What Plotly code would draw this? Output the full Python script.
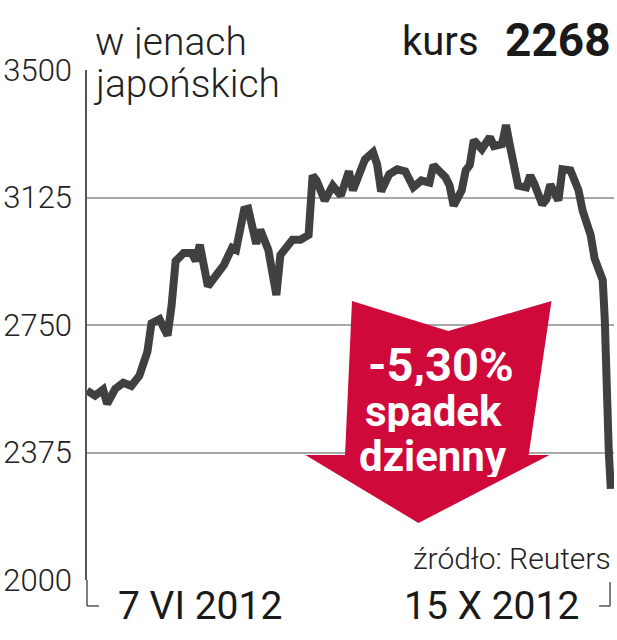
import plotly.graph_objects as go

# ---- data ----
days = [0, 2, 4, 5, 7, 9, 11, 13, 15, 16, 18, 20, 21, 22, 24, 26, 27, 28, 30, 33,
        34, 36, 37, 39, 40, 42, 43, 45, 47, 48, 51, 53, 55, 56, 57, 59, 61, 63, 65, 66,
        69, 71, 72, 73, 75, 77, 79, 81, 83, 85, 86, 89, 90, 91, 93, 94, 95, 96, 98, 100,
        101, 103, 104, 105, 106, 107, 109, 110, 111, 113, 114, 115, 117, 118, 120, 122,
        123, 124, 125, 126, 127, 128, 128.5, 129, 129.5, 130]
kurs = [2557, 2542, 2560, 2518, 2562, 2580, 2571, 2601, 2672, 2755, 2767, 2719, 2808, 2938,
        2962, 2962, 2938, 2986, 2864, 2909, 2927, 2977, 2971, 3089, 3092, 2989, 3030, 2971,
        2838, 2956, 3001, 3001, 3015, 3190, 3175, 3116, 3160, 3131, 3202, 3146, 3237, 3258,
        3223, 3143, 3193, 3208, 3202, 3155, 3175, 3169, 3220, 3184, 3160, 3101, 3146, 3205,
        3220, 3294, 3267, 3303, 3276, 3282, 3338, 3276, 3208, 3160, 3155, 3190, 3166, 3104,
        3119, 3163, 3116, 3208, 3205, 3146, 3087, 3042, 3015, 2945, 2905, 2882, 2770, 2474,
        2380, 2268]
y_ticks = [2000, 2375, 2750, 3125, 3500]
y_tick_labels = ["2000", "2375", "2750", "3125", "3500"]
x_labels = ["7 VI 2012", "15 X 2012"]
unit_lines = ["w jenach", "japońskich"]
kurs_label = "kurs"
kurs_value = "2268"
change_lines = ["-5,30%", "spadek", "dzienny"]
source = "źródło: Reuters"

# ---- layout helpers ----
W, H = 617, 640
L, R, T, B = 83, 3, 70, 60
PW, PH = W - L - R, H - T - B


def px(x):
    return (x - L) / PW


def py(y):
    return (H - B - y) / PH


RED = "#cf0a3b"
LINE = "#404040"
GRID = "#a8a8a8"
FONT = "Roboto"

fig = go.Figure()
fig.add_trace(go.Scatter(x=days, y=kurs, mode="lines",
                         line=dict(color=LINE, width=8), hoverinfo="skip",
                         showlegend=False))

shapes = []
# arrow
pts = [(350, 301), (447, 331), (551, 301), (528, 455), (549, 455), (417, 523),
       (303, 455), (343, 455)]
path = "M " + " L ".join(f"{px(a):.5f},{py(b):.5f}" for a, b in pts) + " Z"
shapes.append(dict(type="path", xref="paper", yref="paper", path=path,
                   fillcolor=RED, line=dict(width=0), layer="above"))
# bottom brackets
for seg in [((83, 580), (83, 606)), ((83, 606), (95, 606)),
            ((610, 582), (610, 606)), ((599, 606), (610, 606))]:
    (x0, y0), (x1, y1) = seg
    shapes.append(dict(type="line", xref="paper", yref="paper",
                       x0=px(x0), y0=py(y0), x1=px(x1), y1=py(y1),
                       line=dict(color="#555555", width=1.5)))

ann = []
ann.append(dict(text=unit_lines[0], x=px(89), y=py(42), xanchor="left", yanchor="middle",
                font=dict(family=FONT, size=39, color="#222222", weight=300)))
ann.append(dict(text=unit_lines[1], x=px(87), y=py(84), xanchor="left", yanchor="middle",
                font=dict(family=FONT, size=39, color="#222222", weight=300),
                bgcolor="white", borderpad=2))
ann.append(dict(text=kurs_label, x=px(480), y=py(42), xanchor="right", yanchor="middle",
                font=dict(family=FONT, size=40, color="#1a1a1a", weight=400)))
ann.append(dict(text="<b>" + kurs_value + "</b>", x=px(613), y=py(40), xanchor="right",
                yanchor="middle", font=dict(family=FONT, size=46, color="#1a1a1a", weight=900)))
ann.append(dict(text="<b>" + change_lines[0] + "</b>", x=px(440), y=py(364),
                xanchor="center", yanchor="middle", height=44,
                font=dict(family=FONT, size=47, color="white")))
ann.append(dict(text="<b>" + change_lines[1] + "</b>", x=px(432), y=py(411),
                xanchor="center", yanchor="middle", height=42,
                font=dict(family=FONT, size=42, color="white")))
ann.append(dict(text="<b>" + change_lines[2] + "</b>", x=px(432), y=py(456),
                xanchor="center", yanchor="middle", height=42,
                font=dict(family=FONT, size=42, color="white")))
ann.append(dict(text=source, x=px(613), y=py(558), xanchor="right", yanchor="middle",
                font=dict(family=FONT, size=30, color="#222222", weight=300)))
ann.append(dict(text=x_labels[0], x=px(197), y=py(606), xanchor="center", yanchor="middle",
                font=dict(family=FONT, size=39, color="#1a1a1a", weight=400)))
ann.append(dict(text=x_labels[1], x=px(491), y=py(606), xanchor="center", yanchor="middle",
                font=dict(family=FONT, size=39, color="#1a1a1a", weight=400)))
for a in ann:
    a.update(xref="paper", yref="paper", showarrow=False)

fig.update_layout(
    width=W, height=H, autosize=False,
    margin=dict(l=L, r=R, t=T, b=B, pad=0),
    paper_bgcolor="white", plot_bgcolor="white",
    shapes=shapes, annotations=ann,
    xaxis=dict(range=[0, 130.8], showgrid=False, zeroline=False, showticklabels=False,
               showline=False, ticks="", fixedrange=True),
    yaxis=dict(range=[2000, 3500], tickvals=y_ticks, ticktext=y_tick_labels,
               showgrid=True, gridcolor=GRID, gridwidth=1.5, zeroline=False,
               showline=True, linecolor="#555555", linewidth=1.5, ticks="",
               ticklabelstandoff=7, fixedrange=True,
               tickfont=dict(family=FONT, size=31, color="#222222", weight=300)),
)

fig.write_html("out.html",
               config={"displayModeBar": False},
               post_script="document.body.style.margin='0';"
                           "document.body.style.overflow='hidden';")
